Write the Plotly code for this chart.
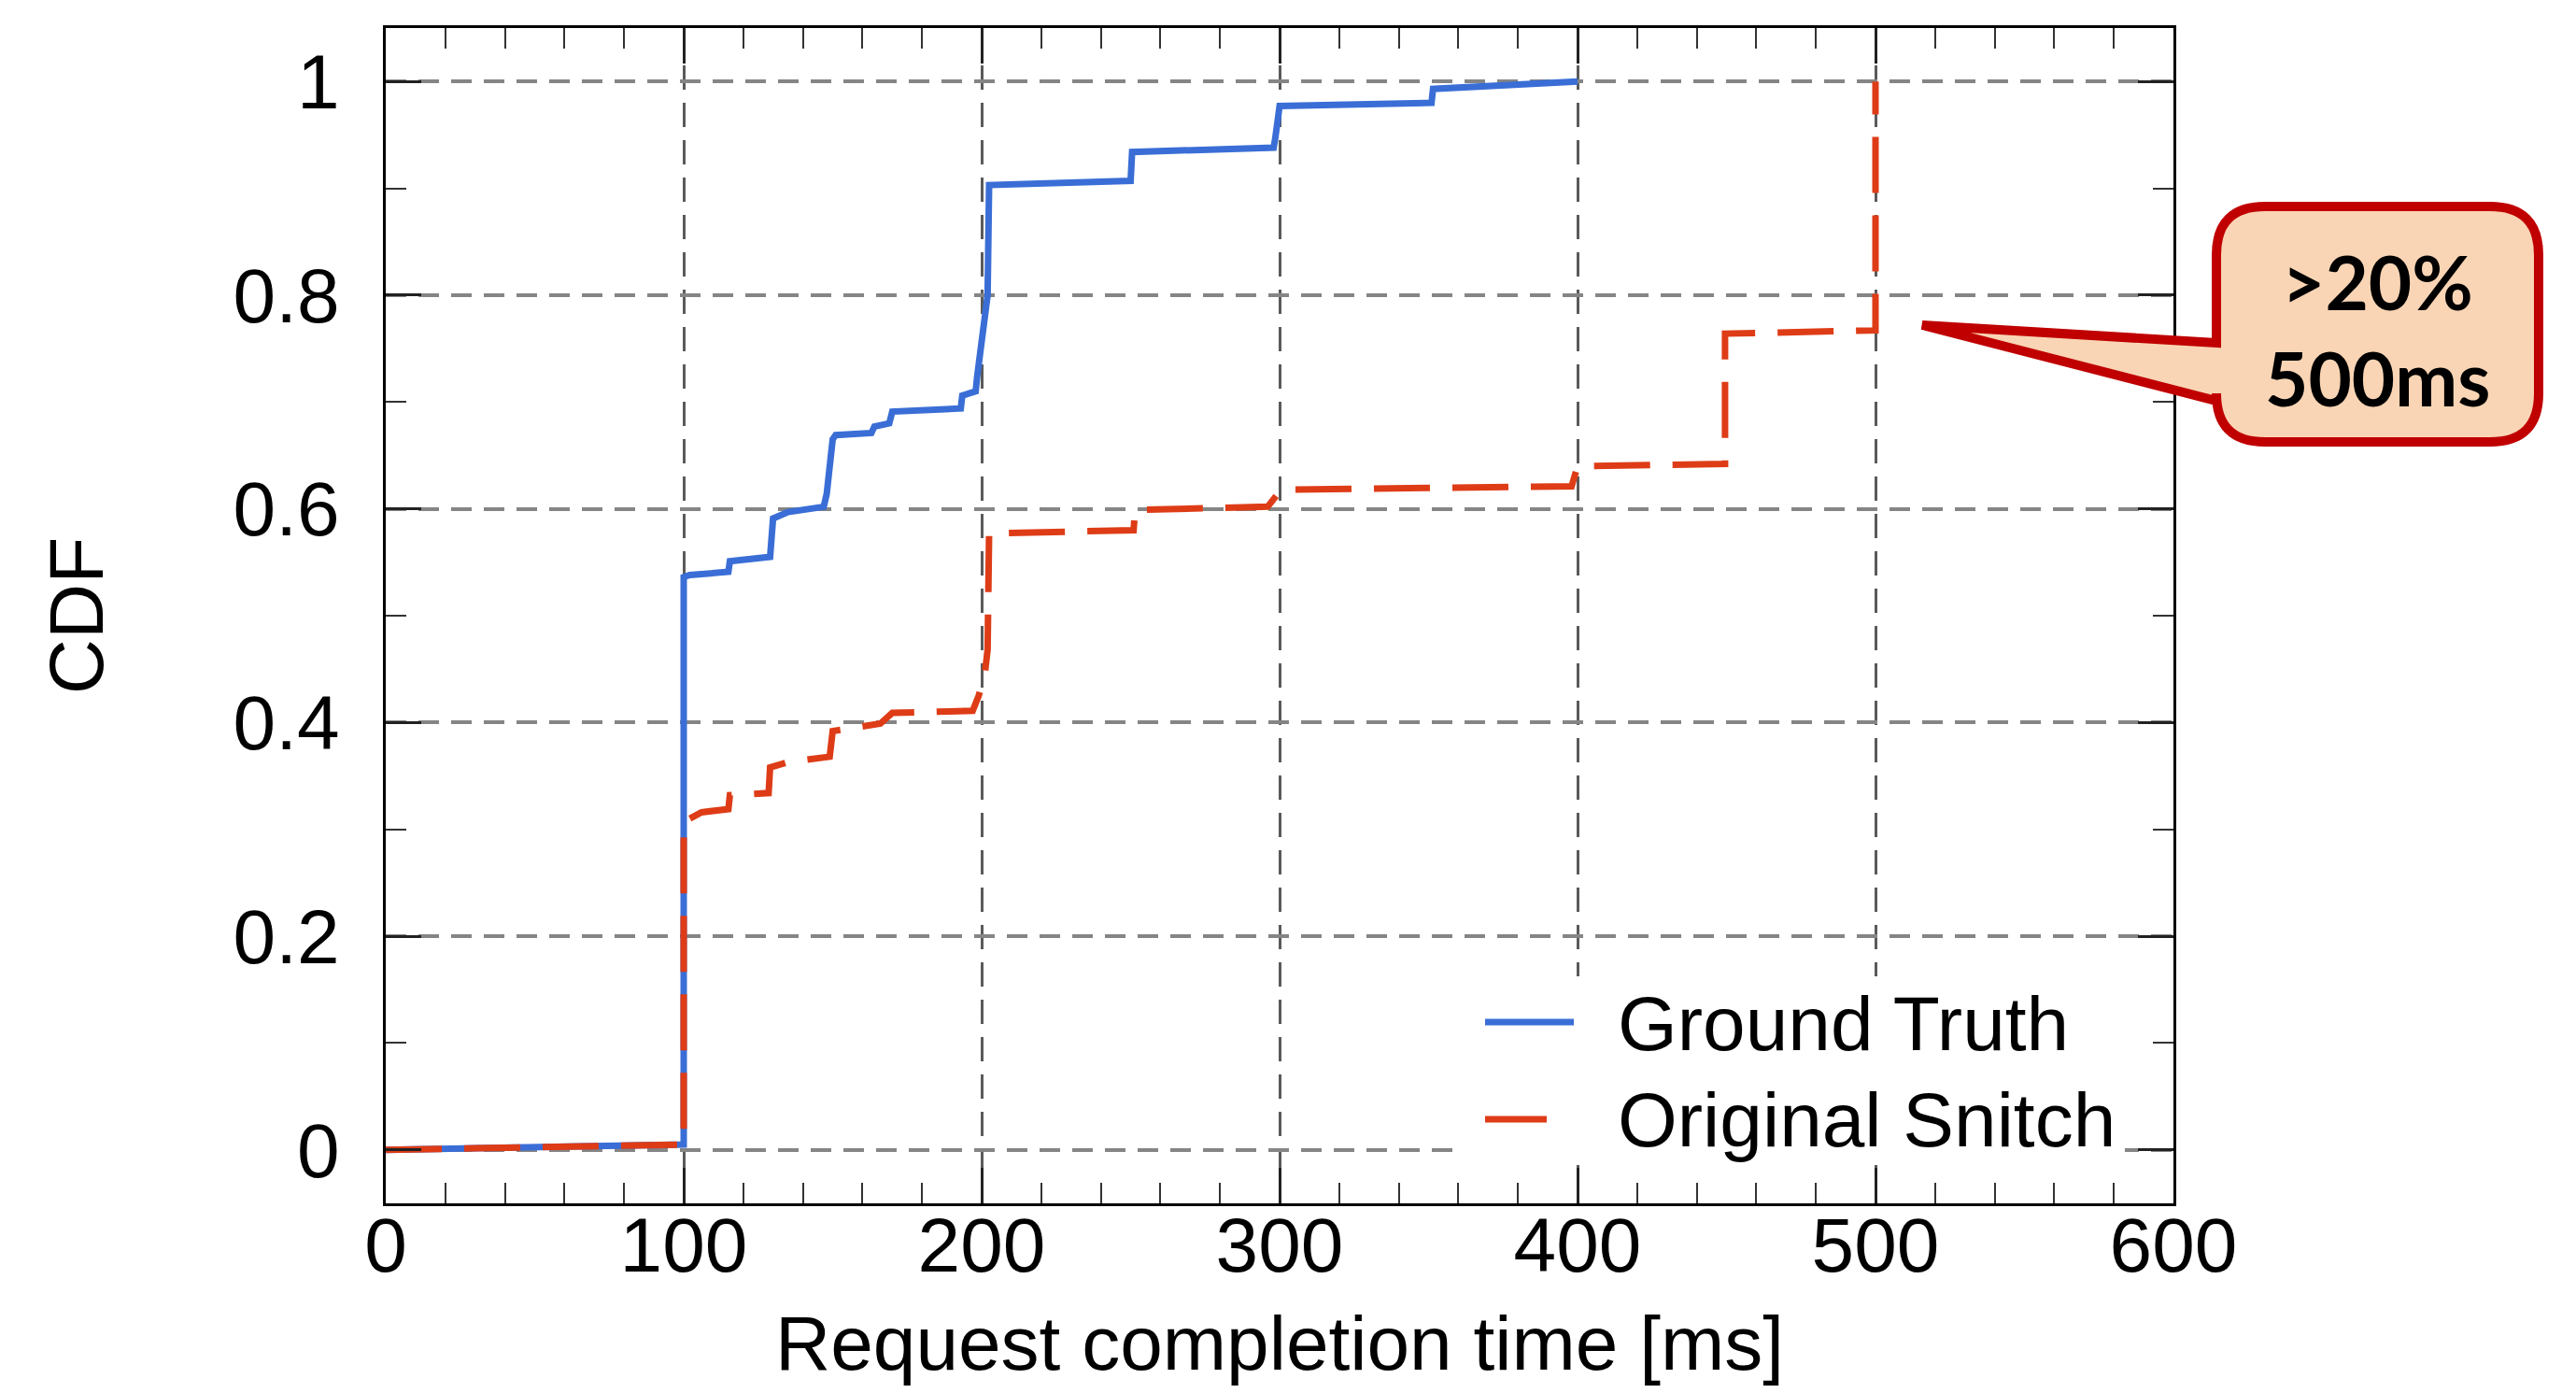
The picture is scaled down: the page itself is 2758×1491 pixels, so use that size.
import plotly.graph_objects as go

# ---------------- data ----------------
gt_x = [0, 100, 100, 102, 115, 115.5, 129, 130, 135, 147, 148, 150, 151, 163, 164, 169, 170,
        193, 193.5, 198, 198.5, 199.5, 201.5, 202, 202.5, 250, 250.5, 298, 298.5, 300,
        351, 351.5, 400]
gt_y = [0, 0.005, 0.536, 0.538, 0.541, 0.551, 0.555, 0.591, 0.597, 0.602, 0.614, 0.665, 0.669,
        0.671, 0.677, 0.680, 0.691, 0.694, 0.706, 0.710, 0.724, 0.745, 0.780, 0.800, 0.903,
        0.907, 0.934, 0.938, 0.946, 0.977, 0.980, 0.993, 1.0]

os_x = [0, 100, 100, 106, 115, 115.5, 128.5, 129, 135, 149, 150, 166, 170, 197, 199, 201, 202,
        202.5, 251, 251.5, 296, 300.5, 398, 400, 449.5, 449.5, 500, 500]
os_y = [0, 0.005, 0.307, 0.316, 0.319, 0.332, 0.334, 0.358, 0.363, 0.368, 0.392, 0.399, 0.409,
        0.411, 0.425, 0.444, 0.468, 0.577, 0.580, 0.599, 0.602, 0.618, 0.621, 0.640, 0.642,
        0.764, 0.767, 1.0]

series_names = ["Ground Truth", "Original Snitch"]
x_title = "Request completion time [ms]"
y_title = "CDF"
callout_lines = [">20%", "500ms"]

BLUE = "#3a6ed6"
RED = "#de3c17"

# page is 2758x1491; html body has an 8px margin
BODY = 8
W, H = 2758 - 2 * BODY, 1491 - 2 * BODY
PL, PR, PT, PB = 413, 2327, 30, 1288          # plot area in page pixels
L, T = PL - BODY, PT - BODY
R, B = W - (PR - BODY), H - (PB - BODY)
PW, PH = PR - PL, PB - PT


def px(X):
    return (X - PL) / PW


def py(Y):
    return (PB - Y) / PH


fig = go.Figure()
fig.add_trace(go.Scatter(x=gt_x, y=gt_y, mode="lines", name=series_names[0],
                         line=dict(color=BLUE, width=7), showlegend=False))
fig.add_trace(go.Scatter(x=os_x, y=os_y, mode="lines", name=series_names[1],
                         line=dict(color=RED, width=7, dash="60px,24px"), showlegend=False))

FONT = "Liberation Sans, Arial, Helvetica, sans-serif"

fig.update_layout(
    width=W, height=H,
    margin=dict(l=L, r=R, t=T, b=B, autoexpand=False),
    paper_bgcolor="white", plot_bgcolor="white",
    font=dict(family=FONT, color="black", size=82),
    showlegend=False,
)

fig.update_xaxes(
    range=[0, 600], tick0=0, dtick=100, showgrid=True, gridcolor="#5a5a5a", gridwidth=3,
    griddash="26px,14px", zeroline=False, showline=True, linecolor="black", linewidth=3,
    mirror="allticks", ticks="inside", ticklen=38, tickwidth=3, tickcolor="#222",
    minor=dict(dtick=20, ticks="inside", ticklen=22, tickwidth=2, tickcolor="#333", showgrid=False),
    tickfont=dict(size=82), ticklabelstandoff=-28,
    title=dict(text=x_title, font=dict(size=82), standoff=69),
    automargin=False,
)
fig.update_yaxes(
    range=[-0.05, 1.05], tick0=0, dtick=0.2, showgrid=True, gridcolor="#858585", gridwidth=4,
    griddash="22px,13px", zeroline=False, showline=True, linecolor="black", linewidth=3,
    mirror="allticks", ticks="inside", ticklen=38, tickwidth=3, tickcolor="#222",
    minor=dict(dtick=0.1, ticks="inside", ticklen=22, tickwidth=2, tickcolor="#333", showgrid=False),
    tickfont=dict(size=82), ticklabelstandoff=30,
    title=dict(text=y_title, font=dict(size=82), standoff=112),
    automargin=False,
)

shapes = []
# legend background (hides the grid behind the legend)
shapes.append(dict(type="rect", xref="paper", yref="paper", x0=px(1555), x1=px(2275),
                   y0=py(1247), y1=py(1045), fillcolor="white", line=dict(width=0), layer="above"))
# legend samples
shapes.append(dict(type="line", xref="paper", yref="paper", x0=px(1590), x1=px(1685),
                   y0=py(1094), y1=py(1094), line=dict(color=BLUE, width=7)))
shapes.append(dict(type="line", xref="paper", yref="paper", x0=px(1590), x1=px(1656),
                   y0=py(1198), y1=py(1198), line=dict(color=RED, width=7)))

# callout box with pointer (single outline)
x0, x1, y0, y1, r = 2373, 2718, 221, 473, 52
tipx, tipy = 2058, 348
pts = [
    ("M", (x0, y0 + r)),
    ("Q", (x0, y0), (x0 + r, y0)),
    ("L", (x1 - r, y0)),
    ("Q", (x1, y0), (x1, y0 + r)),
    ("L", (x1, y1 - r)),
    ("Q", (x1, y1), (x1 - r, y1)),
    ("L", (x0 + r, y1)),
    ("Q", (x0, y1), (x0, y1 - r)),
    ("L", (x0, 429)),
    ("L", (tipx, tipy)),
    ("L", (x0, 367)),
]
path = ""
for seg in pts:
    cmd = seg[0]
    coords = " ".join(f"{px(X):.5f},{py(Y):.5f}" for X, Y in seg[1:])
    path += f"{cmd}{coords} "
path += "Z"
shapes.append(dict(type="path", xref="paper", yref="paper", path=path,
                   fillcolor="#f9d5b5", line=dict(color="#c00000", width=10), layer="above"))
fig.update_layout(shapes=shapes)

CALLFONT = "Lato, Open Sans, sans-serif"
ann = [
    dict(text=series_names[0], x=px(1730), y=py(1095), xref="paper", yref="paper",
         xanchor="left", yanchor="middle", showarrow=False, font=dict(size=82, family=FONT)),
    dict(text=series_names[1], x=px(1730), y=py(1198), xref="paper", yref="paper",
         xanchor="left", yanchor="middle", showarrow=False, font=dict(size=82, family=FONT)),
    dict(text=f"<b>{callout_lines[0]}</b>", x=px(2545), y=py(301), xref="paper", yref="paper",
         xanchor="center", yanchor="middle", showarrow=False,
         font=dict(size=80, family=CALLFONT, color="black")),
    dict(text=f"<b>{callout_lines[1]}</b>", x=px(2545), y=py(404), xref="paper", yref="paper",
         xanchor="center", yanchor="middle", showarrow=False,
         font=dict(size=80, family=CALLFONT, color="black")),
]
fig.update_layout(annotations=ann)

fig.write_html("out.html")
